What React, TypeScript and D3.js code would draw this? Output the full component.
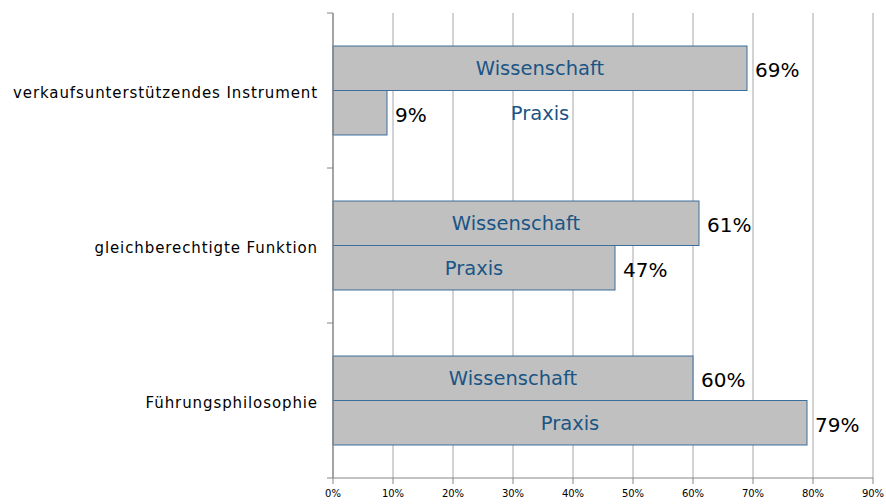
import React from 'react';
import { scaleLinear, scaleBand, range } from 'd3';

const categories = ['verkaufsunterstützendes Instrument', 'gleichberechtigte Funktion', 'Führungsphilosophie'];
const series = ['Wissenschaft', 'Praxis'];
const wissenschaft = [69, 61, 60];
const praxis = [9, 47, 79];
const xTicks = [0, 10, 20, 30, 40, 50, 60, 70, 80, 90];

const W = 886;
const H = 504;
const FONT = "'DejaVu Sans', Verdana, sans-serif";

export default function App() {
  const x = scaleLinear().domain([0, 90]).range([333, 873]);
  const y = scaleBand().domain(categories).range([13, 478]).paddingInner(0.426).paddingOuter(0.213);
  const sub = scaleBand().domain(series).range([0, y.bandwidth()]);
  const values = [wissenschaft, praxis];
  const step = y.step();
  const catEdges = range(categories.length + 1).map(i => 13 + i * step);

  return (
    <svg width={W} height={H} style={{ position: 'absolute', left: 0, top: 0, background: '#fff' }}>
      {/* grid */}
      {xTicks.slice(1).map(t => (
        <line key={'g' + t} x1={x(t)} x2={x(t)} y1={13} y2={478} stroke="#a6a6a6" strokeWidth={1} />
      ))}
      {/* bars */}
      {categories.map((c, ci) => (
        <g key={c}>
          {series.map((s, si) => {
            const v = values[si][ci];
            const by = y(c)! + sub(s)!;
            const bh = sub.bandwidth();
            const w = x(v) - x(0);
            const other = values[1 - si][ci];
            const labelX = w > 120 ? x(0) + w / 2 : x(0) + (x(other) - x(0)) / 2;
            return (
              <g key={s}>
                <rect x={x(0)} y={by} width={w} height={bh} fill="#c0c0c0" stroke="#3b6e9c" strokeWidth={1} />
                <text x={labelX} y={by + bh / 2} dy="0.35em" textAnchor="middle"
                  fontFamily={FONT} fontSize={19.5} fill="#1a5585">{s}</text>
                <text x={x(v) + 8} y={by + bh / 2 + 2} dy="0.35em"
                  fontFamily={FONT} fontSize={20} fill="#000">{v}%</text>
              </g>
            );
          })}
          <text x={318} y={y(c)! + y.bandwidth() / 2 + 2} dy="0.35em" textAnchor="end"
            fontFamily={FONT} fontSize={15} letterSpacing={0.9} fill="#000">{c}</text>
        </g>
      ))}
      {/* y axis */}
      <line x1={333} x2={333} y1={13} y2={478} stroke="#868686" strokeWidth={1.5} />
      {catEdges.map((e, i) => (
        <line key={'yt' + i} x1={327} x2={333} y1={e} y2={e} stroke="#868686" strokeWidth={1} />
      ))}
      {/* x axis */}
      <line x1={333} x2={873} y1={478} y2={478} stroke="#868686" strokeWidth={1} />
      {xTicks.map(t => (
        <g key={'xt' + t}>
          <line x1={x(t)} x2={x(t)} y1={478} y2={484} stroke="#868686" strokeWidth={1} />
          <text x={x(t)} y={493} dy="0.35em" textAnchor="middle" fontFamily={FONT} fontSize={10} fill="#000">{t}%</text>
        </g>
      ))}
    </svg>
  );
}
